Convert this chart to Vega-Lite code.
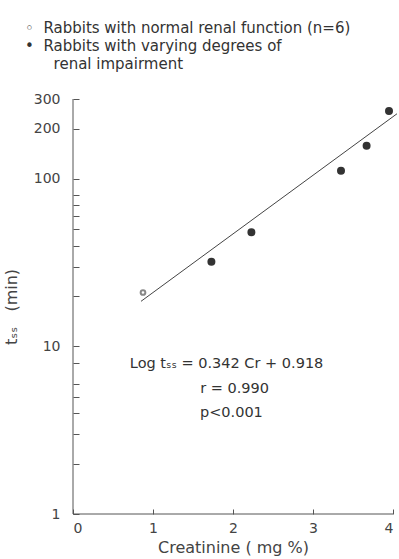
{
  "$schema": "https://vega.github.io/schema/vega-lite/v6.json",
  "width": 320,
  "height": 415,
  "autosize": {"type": "none"},
  "padding": {"left": 73, "top": 99, "right": 6, "bottom": 45},
  "background": "white",
  "config": {
    "view": {"stroke": null},
    "font": "DejaVu Sans",
    "axis": {"labelColor": "#444", "titleColor": "#444", "grid": false, "labelFont": "DejaVu Sans", "titleFont": "DejaVu Sans", "titleFontWeight": "normal"}
  },
  "title": {
    "text": ["◦\u00a0\u00a0Rabbits with normal renal function (n=6)", "•\u00a0\u00a0Rabbits with varying degrees of", "\u200b\u00a0\u00a0\u00a0\u00a0\u00a0\u00a0renal impairment"],
    "anchor": "start",
    "frame": "group",
    "orient": "top",
    "dx": -48,
    "offset": 20,
    "fontSize": 15,
    "fontWeight": "normal",
    "color": "#333",
    "lineHeight": 18,
    "font": "DejaVu Sans"
  },
  "datasets": {
    "pts": [
      {"cr": 0.875, "tss": 21, "group": "normal"},
      {"cr": 1.73, "tss": 32, "group": "impaired"},
      {"cr": 2.23, "tss": 48, "group": "impaired"},
      {"cr": 3.35, "tss": 112, "group": "impaired"},
      {"cr": 3.67, "tss": 158, "group": "impaired"},
      {"cr": 3.95, "tss": 254, "group": "impaired"}
    ],
    "fit": [
      {"cr": 0.85, "tss": 18.6},
      {"cr": 4.05, "tss": 245}
    ],
    "yaxisline": [{"cr": 0}],
    "xaxisline": [{"tss": 1}],
    "notes": [
      {"cr": 1.92, "tss": 7.9, "label": "Log tₛₛ = 0.342 Cr + 0.918"},
      {"cr": 2.02, "tss": 5.6, "label": "r = 0.990"},
      {"cr": 1.98, "tss": 4.0, "label": "p<0.001"}
    ]
  },
  "layer": [
    {
      "data": {"name": "yaxisline"},
      "mark": {"type": "rule", "color": "#555", "strokeWidth": 1},
      "encoding": {"x": {"field": "cr", "type": "quantitative"}}
    },
    {
      "data": {"name": "xaxisline"},
      "mark": {"type": "rule", "color": "#555", "strokeWidth": 1},
      "encoding": {"y": {"field": "tss", "type": "quantitative"}}
    },
    {
      "data": {"name": "fit"},
      "mark": {"type": "line", "color": "#444", "strokeWidth": 1, "clip": false},
      "encoding": {
        "x": {"field": "cr", "type": "quantitative"},
        "y": {"field": "tss", "type": "quantitative"}
      }
    },
    {
      "data": {"name": "pts"},
      "mark": {"type": "point", "clip": false},
      "encoding": {
        "x": {
          "field": "cr", "type": "quantitative",
          "scale": {"domain": [0, 4], "nice": false, "zero": false},
          "axis": {"values": [0, 1, 2, 3, 4], "domain": false, "offset": -5, "ticks": true, "tickSize": 5, "tickColor": "#555", "tickWidth": 1, "labelPadding": 7, "labelFontSize": 14, "title": "Creatinine ( mg %)", "titleFontSize": 16, "titlePadding": 4, "format": "d"}
        },
        "y": {
          "field": "tss", "type": "quantitative",
          "scale": {"type": "log", "domain": [1, 300], "nice": false},
          "axis": {"values": [1, 2, 3, 4, 5, 6, 8, 10, 20, 30, 40, 50, 60, 70, 80, 100, 200, 300], "domain": false, "offset": -6, "ticks": true, "tickSize": 6, "tickColor": "#555", "tickWidth": 1, "labelPadding": 13, "labelFontSize": 14, "labelExpr": "indexof([1,10,100,200,300], datum.value) >= 0 ? datum.label : ''", "format": "d", "title": "tₛₛ\u00a0\u00a0\u00a0(min)", "titleFontSize": 16, "titlePadding": 14}
        },
        "fill": {"field": "group", "type": "nominal", "scale": {"domain": ["normal", "impaired"], "range": ["white", "#333"]}, "legend": null},
        "stroke": {"field": "group", "type": "nominal", "scale": {"domain": ["normal", "impaired"], "range": ["#888", "#333"]}, "legend": null},
        "size": {"field": "group", "type": "nominal", "scale": {"domain": ["normal", "impaired"], "range": [22, 36]}, "legend": null},
        "opacity": {"value": 1}
      }
    },
    {
      "data": {"name": "notes"},
      "mark": {"type": "text", "fontSize": 14.5, "color": "#333", "align": "center", "baseline": "middle"},
      "encoding": {
        "x": {"field": "cr", "type": "quantitative"},
        "y": {"field": "tss", "type": "quantitative"},
        "text": {"field": "label"}
      }
    }
  ]
}
